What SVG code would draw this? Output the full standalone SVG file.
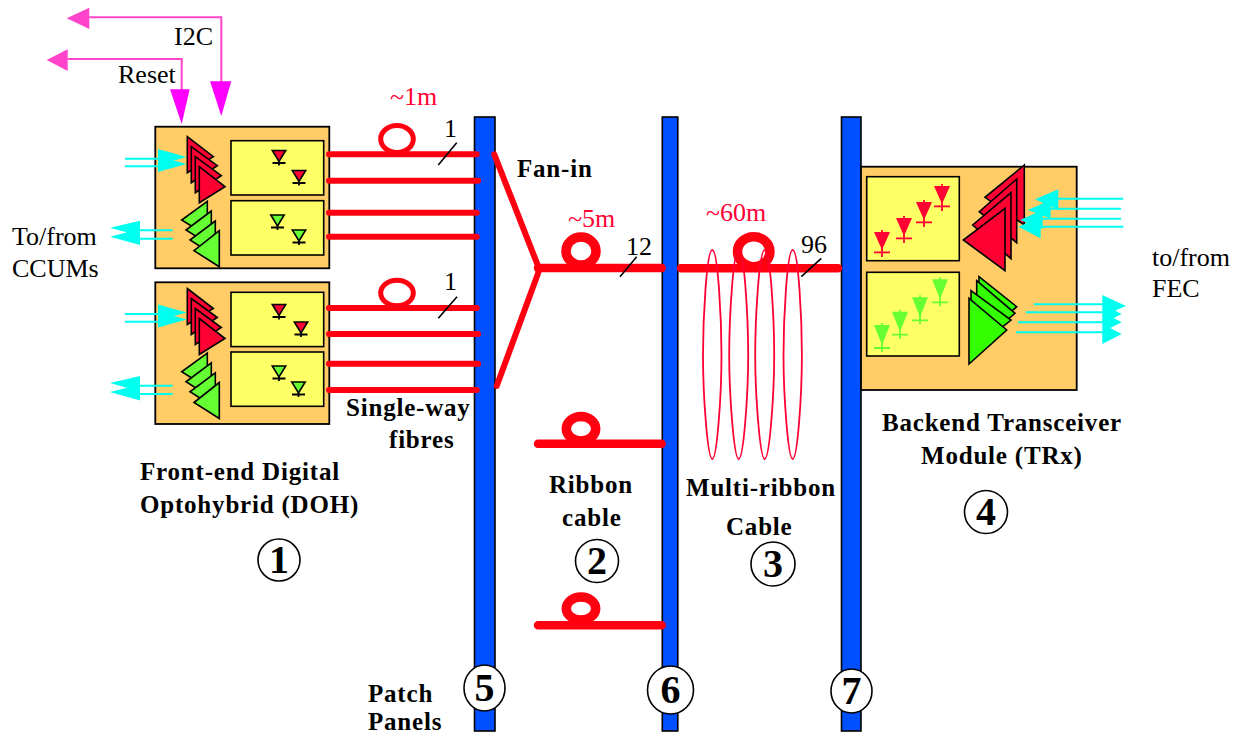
<svg xmlns="http://www.w3.org/2000/svg" xmlns:xlink="http://www.w3.org/1999/xlink" width="1241" height="736" viewBox="0 0 1241 736">
<style>
text{font-family:"Liberation Serif","Times New Roman",serif;font-size:26px;fill:#000}
.b{font-weight:700;font-size:25px;letter-spacing:.8px}
.r{fill:#ff0033}
.num{font-weight:700;font-size:40px;text-anchor:middle}
.panel{fill:#0050ff;stroke:#000;stroke-width:1.6}
.mod{fill:#ffcc66;stroke:#000;stroke-width:1.8}
.in{fill:#ffff66;stroke:#000;stroke-width:1.6}
.tr{fill:#ff0033;stroke:#000;stroke-width:1.6;stroke-linejoin:miter}
.tg{fill:#66ff33;stroke:#000;stroke-width:1.6}
.tg2{fill:#33ff00;stroke:#000;stroke-width:1.6}
.fib{fill:none;stroke:#ff0011;stroke-linecap:round}
.loop{fill:none;stroke:#ff0011}
.coil{fill:none;stroke:#ff0033;stroke-width:1.8}
.cy{fill:#00ffee}
.cyl{stroke:#00ffee;stroke-width:2;fill:none}
.mgl{stroke:#ff44cc;stroke-width:2;fill:none}
.tick{stroke:#000;stroke-width:1.6}
.circ{fill:#fff;stroke:#000;stroke-width:1.6}
.bar{stroke:#000;stroke-width:1.8;fill:none}
</style>
<defs>
<g id="dr"><path d="M-6.7,-11 H6.7 L0,0 Z" fill="#ff0033" stroke="#000" stroke-width="1.6"/><path d="M-6.5,1.5 H6.5 M0,0 V4" class="bar"/></g>
<g id="dg"><path d="M-6.7,-11 H6.7 L0,0 Z" fill="#66ff33" stroke="#000" stroke-width="1.6"/><path d="M-6.5,1.5 H6.5 M0,0 V4" class="bar"/></g>
<g id="brd"><path d="M-8,-18 H8 L0,0 Z" fill="#ff0033"/><path d="M-8,2.3 H8 M0,-20 V7" stroke="#ff0033" stroke-width="1.8" fill="none"/></g>
<g id="bgd"><path d="M-8,-20 H8 L0,0 Z" fill="#66ff33"/><path d="M-8,3 H8 M0,-22 V7" stroke="#66ff33" stroke-width="1.8" fill="none"/></g>
<g id="amps">
<path class="tr" d="M187.300,136.700 L213.300,156.700 L187.300,172.700 Z"/>
<path class="tr" d="M191.300,146.700 L217.300,165.700 L191.300,182.700 Z"/>
<path class="tr" d="M195.300,156.700 L221.300,175.700 L195.300,192.700 Z"/>
<path class="tr" d="M199.300,166.700 L225,186.700 L199.300,202.700 Z"/>
<path class="tg" d="M207.300,201.300 L181.700,220 L207.300,236 Z"/>
<path class="tg" d="M211.300,211 L186,230 L211.300,246 Z"/>
<path class="tg" d="M215.300,221 L190,240 L215.300,256 Z"/>
<path class="tg" d="M219.300,230.700 L194,250.700 L219.300,266.700 Z"/>
</g>
<g id="cyio">
<path class="cyl" d="M125,158.700 H160 M125,166.300 H160 M140,230.300 H172.700 M140,238.700 H172.700"/>
<path class="cy" d="M158,149 L186.500,157 L158,165 Z M158,156 L186.500,164 L158,172 Z"/>
<path class="cy" d="M140,220.700 L110,227.700 L140,236 Z M140,229 L110,236.700 L140,245 Z"/>
</g>
</defs>

<g id="panel-5"><rect class="panel" x="474.500" y="117" width="20.500" height="614"/></g>
<g id="panel-6"><rect class="panel" x="662.300" y="117" width="15.500" height="614"/></g>
<g id="panel-7"><rect class="panel" x="841.500" y="117" width="19.500" height="614"/></g>

<g id="doh-1">
<rect class="mod" x="155.300" y="126.700" width="174" height="141.600"/>
<rect class="in" x="231" y="140.700" width="92.700" height="54.300"/>
<rect class="in" x="231" y="200.700" width="92.700" height="54.300"/>
<use xlink:href="#dr" href="#dr" x="279" y="161.500"/>
<use xlink:href="#dr" href="#dr" x="299" y="181.500"/>
<use xlink:href="#dg" href="#dg" x="277.500" y="226"/>
<use xlink:href="#dg" href="#dg" x="299" y="241"/>
<use xlink:href="#amps" href="#amps"/>
<use xlink:href="#cyio" href="#cyio"/>
</g>
<g id="doh-2">
<rect class="mod" x="155.300" y="282.300" width="174" height="141.700"/>
<rect class="in" x="231" y="292.300" width="92.700" height="54.300"/>
<rect class="in" x="231" y="352" width="92.700" height="54.300"/>
<use xlink:href="#dr" href="#dr" x="279" y="315.500"/>
<use xlink:href="#dr" href="#dr" x="301" y="333"/>
<use xlink:href="#dg" href="#dg" x="279" y="377"/>
<use xlink:href="#dg" href="#dg" x="298.500" y="393"/>
<use xlink:href="#amps" href="#amps" y="151.800"/>
<use xlink:href="#cyio" href="#cyio" y="155.400"/>
</g>

<g id="trx">
<rect class="mod" x="861" y="166.700" width="215.700" height="223.300"/>
<rect class="in" x="866.700" y="176.700" width="92.600" height="84"/>
<rect class="in" x="866.700" y="272.300" width="92.600" height="83.700"/>
<use xlink:href="#brd" href="#brd" x="882" y="250"/>
<use xlink:href="#brd" href="#brd" x="904" y="236"/>
<use xlink:href="#brd" href="#brd" x="924" y="220"/>
<use xlink:href="#brd" href="#brd" x="942" y="204"/>
<use xlink:href="#bgd" href="#bgd" x="882" y="345"/>
<use xlink:href="#bgd" href="#bgd" x="900" y="331.700"/>
<use xlink:href="#bgd" href="#bgd" x="920" y="317.300"/>
<use xlink:href="#bgd" href="#bgd" x="940" y="299.300"/>
<path class="tr" d="M1024.300,165 L985,197.300 L1024.300,225 Z"/>
<path class="tr" d="M1016.700,179 L979.300,211.700 L1016.700,242.700 Z"/>
<path class="tr" d="M1011,192.700 L972.700,225 L1011,258.700 Z"/>
<path class="tr" d="M1005,208.300 L963.300,240 L1005,270.700 Z"/>
<path class="tg2" d="M979,276.700 L1016.700,306.700 L979,340 Z"/>
<path class="tg2" d="M976.700,280.700 L1015,313.300 L976.700,345 Z"/>
<path class="tg2" d="M971,290.700 L1011,320 L971,352 Z"/>
<path class="tg2" d="M969,298.300 L1006.700,330 L969,364 Z"/>
<path class="cyl" d="M1123.300,198.700 H1058 M1121,208.700 H1050 M1121,218.700 H1042 M1123.300,226.700 H1040"/>
<path class="cy" d="M1058.300,189.300 L1035,199.300 L1058.300,210 Z M1050.700,200 L1027.700,210 L1050.700,218.500 Z M1042.700,210 L1020,220 L1042.700,229 Z M1040.700,216.700 L1018.300,226.700 L1040.700,238.300 Z"/>
<path class="cyl" d="M1034,304.300 H1103 M1026,312.300 H1103 M1018,322.300 H1103 M1016,332.300 H1103"/>
<path class="cy" d="M1102.300,295 L1126,306 L1102.300,316 Z M1102.300,304 L1121.700,314 L1102.300,324 Z M1102.300,312 L1121.700,322.300 L1102.300,332 Z M1102.300,324 L1121.700,334 L1102.300,344 Z"/>
</g>

<g id="connectors">
<path class="mgl" d="M89.300,17.300 H221.300 V82 M67.700,59 H181.700 V90"/>
<path fill="#ff44cc" d="M66.700,18.300 L89.300,7.700 V29 Z M46.700,60 L67.700,49.300 V71 Z"/>
<path fill="#ff00ff" d="M210,81.300 H231.300 L221.300,116 Z M170,89.300 H189.700 L181.700,124 Z"/>
<g class="fib" stroke-width="6">
<path d="M329,154.300 H476.700 M329,180.700 H478 M329,212.700 H476.700 M329,236.700 H476.700"/>
<path d="M329,308 H476.700 M329,334 H478 M329,363.700 H478 M329,390 H476.700"/>
<path d="M494.300,154.300 L538.300,266.700 M496.700,386 L540,268"/>
</g>
<ellipse class="loop" stroke-width="5" cx="397" cy="139" rx="16.300" ry="13.500"/>
<ellipse class="loop" stroke-width="5" cx="397" cy="293" rx="16.300" ry="12.800"/>
<g class="fib" stroke-width="8.500">
<path d="M538,268 H661.700 M681,268.300 H838 M538,443.700 H661.700 M538,625.200 H661.700"/>
</g>
<ellipse class="loop" stroke-width="9.500" cx="581" cy="251" rx="15" ry="14"/>
<ellipse class="loop" stroke-width="9.500" cx="753.700" cy="251.700" rx="16.200" ry="15"/>
<ellipse class="loop" stroke-width="9.500" cx="581" cy="428.700" rx="14.700" ry="12.200"/>
<ellipse class="loop" stroke-width="9.500" cx="581" cy="608.500" rx="14.700" ry="11.500"/>
<path class="coil" d="M712.300,250 C718,250 721.500,320 721.500,355 C721.500,395 717,459 712.300,459 C707.500,459 703,395 703,355 C703,320 706.500,250 712.300,250 Z"/>
<path class="coil" d="M738.700,250 C744.500,250 748.200,320 748.200,355 C748.200,395 743.500,459 738.700,459 C734,459 729.200,395 729.200,355 C729.200,320 733,250 738.700,250 Z"/>
<path class="coil" d="M764.700,250 C770.500,250 774.200,320 774.200,355 C774.200,395 769.500,459 764.700,459 C760,459 755.200,395 755.200,355 C755.200,320 759,250 764.700,250 Z"/>
<path class="coil" d="M792.700,250 C798.500,250 801.900,320 801.900,355 C801.900,395 797.500,459 792.700,459 C788,459 783.500,395 783.500,355 C783.500,320 787,250 792.700,250 Z"/>
<path class="tick" d="M456.700,142.700 L438.300,165 M457,296.700 L438.300,318.300 M636.700,256.700 L620,276.700 M821.300,258.300 L801.300,276.700"/>
</g>

<g id="labels">
<text x="174" y="45">I2C</text>
<text x="118" y="83">Reset</text>
<text x="12" y="245">To/from</text>
<text x="12" y="277">CCUMs</text>
<text x="1152" y="266">to/from</text>
<text x="1152" y="297">FEC</text>
<text class="r" x="390" y="105">~1m</text>
<text class="r" x="568" y="227">~5m</text>
<text class="r" x="706" y="221">~60m</text>
<text x="444" y="137">1</text>
<text x="444" y="290">1</text>
<text x="626" y="255">12</text>
<text x="801" y="253">96</text>
<text class="b" x="517" y="177">Fan-in</text>
<text class="b" x="346" y="416">Single-way</text>
<text class="b" x="389" y="448">fibres</text>
<text class="b" x="140" y="480">Front-end Digital</text>
<text class="b" x="140" y="513">Optohybrid (DOH)</text>
<text class="b" x="549" y="493">Ribbon</text>
<text class="b" x="562" y="526">cable</text>
<text class="b" x="686" y="496">Multi-ribbon</text>
<text class="b" x="726" y="535">Cable</text>
<text class="b" x="882" y="431">Backend Transceiver</text>
<text class="b" x="921" y="464">Module (TRx)</text>
<text class="b" x="368" y="702">Patch</text>
<text class="b" x="368" y="730">Panels</text>
</g>

<g id="n1"><circle class="circ" cx="279" cy="560" r="21"/><text class="num" x="279" y="573">1</text></g>
<g id="n2"><circle class="circ" cx="597" cy="561" r="21.500"/><text class="num" x="597" y="574">2</text></g>
<g id="n3"><circle class="circ" cx="773" cy="564" r="22"/><text class="num" x="773" y="577">3</text></g>
<g id="n4"><circle class="circ" cx="986" cy="512" r="21.500"/><text class="num" x="986" y="525">4</text></g>
<g id="n5"><ellipse class="circ" cx="484.500" cy="688" rx="20.500" ry="23"/><text class="num" x="484.500" y="701">5</text></g>
<g id="n6"><ellipse class="circ" cx="670.500" cy="690" rx="23" ry="24"/><text class="num" x="670.500" y="703">6</text></g>
<g id="n7"><ellipse class="circ" cx="851.500" cy="691" rx="20.500" ry="22"/><text class="num" x="851.500" y="704">7</text></g>
</svg>
